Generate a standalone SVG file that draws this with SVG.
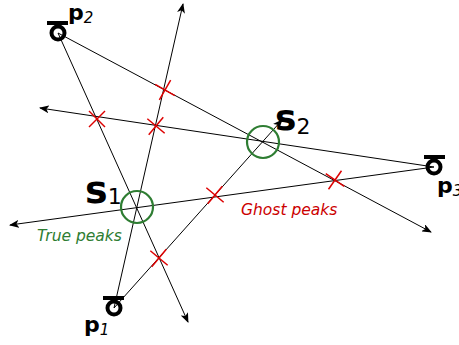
<svg xmlns="http://www.w3.org/2000/svg" width="459" height="345" viewBox="0 0 459 345">
<style>
.ray{stroke:#000;stroke-width:1;fill:none}
.arr{marker-end:url(#ah)}
.peak{fill:none;stroke:#2e7d32;stroke-width:2.2}
.ghost{stroke:#dd0000;stroke-width:1.5}
.sens{fill:none;stroke:#000;stroke-width:4}
.bar{stroke:#000;stroke-width:4}
.lbl{font-family:"DejaVu Sans",sans-serif;font-weight:bold;fill:#000}
.sub{font-family:"DejaVu Sans",sans-serif;font-style:italic;font-weight:normal;fill:#000}
.num{font-family:"DejaVu Sans",sans-serif;font-weight:normal;fill:#000}
.note{font-family:"DejaVu Sans",sans-serif;font-style:italic;font-size:15.5px}
</style>
<defs>
<marker id="ah" markerWidth="10" markerHeight="8" refX="9" refY="4" orient="auto" markerUnits="userSpaceOnUse">
<path d="M0,0 L10,4 L0,8 L2.5,4 Z" fill="#000"/>
</marker>
<g id="x"><line class="ghost" x1="-8" y1="-8" x2="8" y2="8"/><line class="ghost" x1="-8" y1="8" x2="8" y2="-8"/></g>
</defs>
<g id="connectors">
<line class="ray arr" x1="58" y1="33" x2="188" y2="322"/>
<line class="ray arr" x1="58" y1="33" x2="431" y2="232"/>
<line class="ray arr" x1="114" y1="308" x2="183" y2="4"/>
<line class="ray arr" x1="114" y1="308" x2="282" y2="120"/>
<line class="ray arr" x1="434" y1="167" x2="10" y2="225"/>
<line class="ray arr" x1="434" y1="167" x2="40" y2="108"/>
</g>
<g id="ghosts">
<use href="#x" transform="translate(97,119) rotate(0)"/>
<use href="#x" transform="translate(156,126) rotate(-5)"/>
<use href="#x" transform="translate(165,90) rotate(-15)"/>
<use href="#x" transform="translate(215,195) rotate(-5)"/>
<use href="#x" transform="translate(335,180) rotate(-10)"/>
<use href="#x" transform="translate(159,258) rotate(-5)"/>
</g>
<g id="s1">
<circle class="peak" cx="137" cy="207" r="16"/>
<text class="lbl" x="85" y="203" font-size="38">s<tspan class="num" font-size="22" dy="1">1</tspan></text>
</g>
<g id="s2">
<circle class="peak" cx="263" cy="142" r="16"/>
<text class="lbl" x="275" y="130" font-size="36">s<tspan class="num" font-size="22" dy="4">2</tspan></text>
</g>
<g id="p2">
<line class="bar" x1="47" y1="23" x2="68" y2="23"/>
<circle class="sens" cx="58" cy="33" r="6.5"/>
<text class="lbl" x="68" y="20" font-size="22">p<tspan class="sub" font-size="15" dy="3">2</tspan></text>
</g>
<g id="p1">
<line class="bar" x1="103" y1="298" x2="124" y2="298"/>
<circle class="sens" cx="114" cy="308" r="6.5"/>
<text class="lbl" x="84" y="332" font-size="22">p<tspan class="sub" font-size="15" dy="3">1</tspan></text>
</g>
<g id="p3">
<line class="bar" x1="424" y1="157" x2="445" y2="157"/>
<circle class="sens" cx="434" cy="167" r="6.5"/>
<text class="lbl" x="437" y="193" font-size="22">p<tspan class="sub" font-size="15" dy="3">3</tspan></text>
</g>
<text class="note" x="37" y="241" fill="#2e7d32">True peaks</text>
<text class="note" x="241" y="215" fill="#cc0000">Ghost peaks</text>
</svg>
